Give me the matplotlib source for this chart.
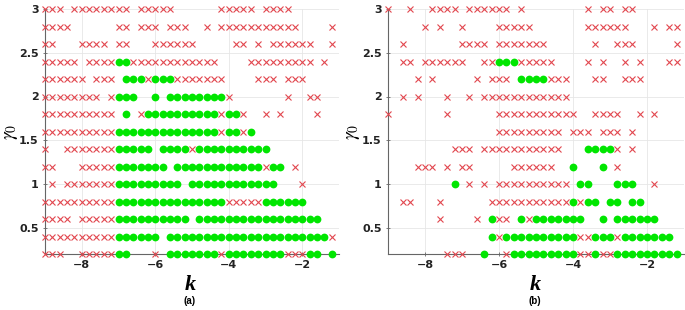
import matplotlib
matplotlib.use("Agg")
import matplotlib.pyplot as plt
import numpy as np

# k grid (columns) and gamma_0 grid (rows, top to bottom)
k_values = [round(-9 + 0.2 * i, 1) for i in range(40)]
gamma_values = [3.0, 2.8, 2.6, 2.4, 2.2, 2.0, 1.8, 1.6, 1.4, 1.2, 1.0, 0.8, 0.6, 0.4, 0.2]
x_ticks = [-8, -6, -4, -2]
y_ticks = [0.5, 1, 1.5, 2, 2.5, 3]

# 'x' = red cross, 'o' = green circle, '.' = no marker
rows_a = [
    "xxx" + "." + "x"*8 + "." + "x"*5 + "."*6 + "x"*5 + "." + "x"*4 + "."*6,
    "x"*4 + "."*6 + "xx" + "." + "xxx" + "." + "xxx" + ".." + "x" + "." + "x"*11 + "...." + "x",
    "xx" + "..." + "xxxx" + "." + "xx" + "..." + "x"*6 + "....." + "xx" + "." + "x" + "." + "x"*6 + ".." + "x",
    "x"*5 + "." + "xxxx" + "oo" + "x"*12 + "...." + "x"*9 + "." + "x" + ".",
    "x"*6 + "." + "xxx" + "." + "ooo" + "x" + "ooo" + "x"*7 + "...." + "xxx" + "." + "xxx" + "....",
    "x"*8 + "." + "x" + "ooo" + ".." + "o" + "." + "o"*8 + "x" + "."*7 + "x" + ".." + "xx" + "..",
    "x"*10 + "." + "o" + "." + "x" + "o"*10 + "x" + "oo" + "x" + ".." + "x" + "." + "x" + "...." + "x" + "..",
    "x"*10 + "o"*14 + "x" + "oo" + "x" + "o" + "."*11,
    "x" + ".." + "x"*7 + "o"*5 + "." + "o"*4 + "x" + "o"*10 + "."*9,
    "xx" + "..." + "x"*5 + "o"*7 + "." + "o"*12 + "x" + "oo" + "." + "x" + "."*5,
    "." + "x" + "." + "x"*7 + "o"*9 + "." + "o"*12 + "..." + "x" + "....",
    "x"*10 + "o"*15 + "x"*5 + "o"*6 + "....",
    "x"*4 + "." + "x"*5 + "o"*10 + "." + "o"*17 + "..",
    "x"*10 + "o"*6 + "." + "o"*22 + "x",
    "xxx" + ".." + "x"*5 + "oo" + "..." + "x" + "." + "o"*7 + "x" + "o"*8 + "xxx" + "oo" + "." + "o",
]

rows_b = [
    "x" + ".." + "x" + ".." + "x"*4 + "." + "x"*6 + "." + "x" + "."*8 + "x" + "." + "xx" + "." + "xx" + "."*6,
    "."*5 + "x" + "." + "x" + ".." + "x" + "...." + "x"*5 + "."*7 + "x"*6 + "..." + "x" + "." + "xx",
    ".." + "x" + "."*7 + "x"*4 + "." + "x"*7 + "."*6 + "x" + ".." + "xxx" + "."*5 + "x",
    ".." + "xx" + "." + "x"*6 + ".." + "xx" + "ooo" + "x"*5 + "...." + "x" + "." + "x" + ".." + "x" + "." + "x" + "..." + "xx",
    "...." + "x" + "." + "x" + "."*5 + "x" + "." + "xxx" + "." + "oooo" + "xxx" + "..." + "xx" + ".." + "xxx" + "."*5,
    ".." + "x" + "." + "x" + "..." + "x" + ".." + "x" + "." + "x"*12 + "."*15,
    "x" + "."*7 + "x" + "."*6 + "x"*11 + ".." + "xxxx" + ".." + "x" + "." + "x" + "...",
    "."*15 + "x"*9 + "." + "xxx" + "." + "xxx" + "." + "x" + "."*6,
    "."*9 + "xxx" + "." + "x"*11 + "..." + "oooo" + "x" + "." + "x" + "."*6,
    "...." + "xxx" + "." + "x" + "." + "xx" + "."*5 + "x"*6 + ".." + "o" + "..." + "o" + "." + "x" + "."*8,
    "."*9 + "o" + "." + "x" + "." + "x" + "." + "x"*10 + "." + "oo" + "..." + "ooo" + ".." + "x" + "...",
    ".." + "xx" + "..." + "x" + "."*6 + "x"*11 + "o" + "x" + "oo" + "." + "oo" + "." + "oo" + "."*5,
    "."*7 + "x" + "...." + "x" + "." + "o" + "xx" + "." + "o" + "x" + "o"*7 + ".." + "o" + "." + "o"*6 + "...",
    "."*14 + "o" + "x" + "o"*10 + "xx" + "ooo" + "x" + "o"*7 + ".",
    "."*8 + "xxx" + ".." + "o" + ".." + "x" + "o"*9 + "xx" + "o" + "xx" + "o"*9,
]

for r in rows_a + rows_b:
    assert len(r) == 40, (len(r), r)

RED = "#e2474f"
GREEN = "#00e600"

plt.rcParams["mathtext.fontset"] = "stix"

fig = plt.figure(figsize=(6.85, 3.10), dpi=100)
W, H = 685, 310
ax_a = fig.add_axes([45 / W, 1 - 254 / H, 294 / W, 245 / H])
ax_b = fig.add_axes([388 / W, 1 - 254 / H, 296 / W, 245 / H])


def draw(ax, rows, label, label_x):
    xs_r, ys_r, xs_g, ys_g = [], [], [], []
    for g, row in zip(gamma_values, rows):
        for k, c in zip(k_values, row):
            if c == "x":
                xs_r.append(k); ys_r.append(g)
            elif c == "o":
                xs_g.append(k); ys_g.append(g)
    ax.plot(xs_g, ys_g, "o", color=GREEN, markersize=5.6, markeredgewidth=0,
            clip_on=False, zorder=3)
    ax.plot(xs_r, ys_r, "x", color=RED, markersize=4.0, markeredgewidth=0.8,
            clip_on=False, zorder=4)
    ax.set_xlim(-9, -1)
    ax.set_ylim(0.2, 3.0)
    ax.set_xticks(x_ticks)
    ax.set_yticks(y_ticks)
    ax.set_yticklabels(["0.5", "1", "1.5", "2", "2.5", "3"])
    ax.grid(True, color="#e6e6e6", linewidth=0.6, zorder=0)
    ax.set_axisbelow(True)
    for s in ["top", "right"]:
        ax.spines[s].set_visible(False)
    for s in ["left", "bottom"]:
        ax.spines[s].set_color("#666666")
        ax.spines[s].set_linewidth(0.8)
    ax.tick_params(direction="inout", length=3, width=0.6, color="#666666",
                   labelsize=8, pad=3)
    for t in ax.get_xticklabels() + ax.get_yticklabels():
        t.set_fontweight("bold")
        t.set_color("#222222")
    fig.text(label_x / W, 1 - 285 / H, "k", fontsize=16, fontstyle="italic",
             fontweight="bold", family="Liberation Serif", ha="center", va="center")
    fig.text(label_x / W, 1 - 301 / H, label, fontsize=7, fontweight="bold",
             family="Liberation Sans", ha="center", va="center")


draw(ax_a, rows_a, "(a)", 190)
draw(ax_b, rows_b, "(b)", 535)
fig.text(10 / W, 1 - 132 / H, r"$\gamma_0$", fontsize=14, rotation=90,
         ha="center", va="center")
fig.text(353 / W, 1 - 132 / H, r"$\gamma_0$", fontsize=14, rotation=90,
         ha="center", va="center")

fig.savefig("out.png", dpi=100)
